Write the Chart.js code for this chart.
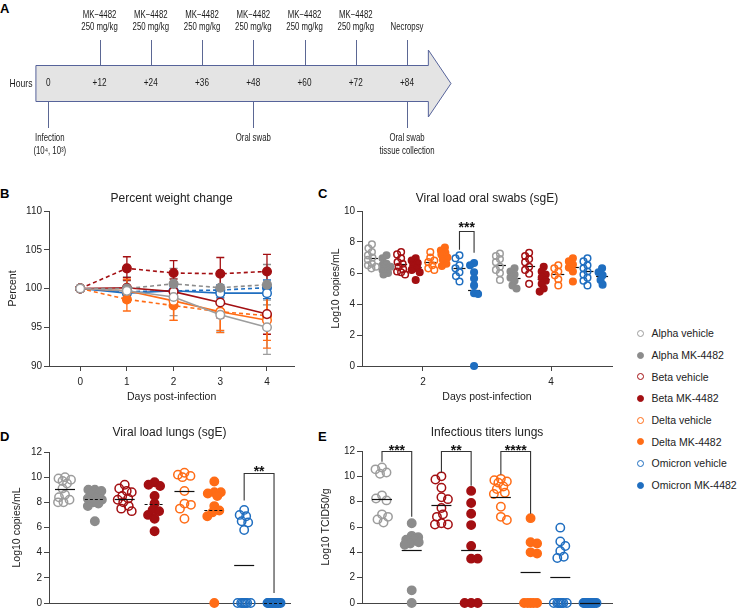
<!DOCTYPE html>
<html>
<head>
<meta charset="utf-8">
<title>MK-4482 in hamsters</title>
<script src="https://cdn.jsdelivr.net/npm/chart.js@4.4.1/dist/chart.umd.min.js"></script>
<style>
  html, body { margin: 0; padding: 0; background: #fff; }
  body { position: relative; width: 737px; height: 611px; overflow: hidden; font-family: "Liberation Sans", Arial, sans-serif; color: #222; }
  canvas { position: absolute; }
  .tag { position: absolute; font: bold 13px/13px "Liberation Sans", Arial, sans-serif; color: #000; }
  #legend { position: absolute; left: 637px; top: 322.5px; font-size: 10.5px; color: #222; }
  #legend div { height: 21.7px; display: flex; align-items: center; white-space: nowrap; }
  #legend .dot { width: 7px; height: 7px; border-radius: 50%; box-sizing: border-box; margin-right: 7.5px; flex: none; }
</style>
</head>
<body>
<div class="tag" style="left:0;top:2px">A</div>
<div class="tag" style="left:0;top:187px">B</div>
<div class="tag" style="left:318px;top:187px">C</div>
<div class="tag" style="left:0;top:430px">D</div>
<div class="tag" style="left:318px;top:430px">E</div>
<canvas id="timeline" width="737" height="165" style="left:0;top:0"></canvas>
<canvas id="weight" width="300" height="230" style="left:0;top:180px"></canvas>
<canvas id="swabs" width="330" height="230" style="left:300px;top:180px"></canvas>
<canvas id="lungs" width="300" height="196" style="left:0;top:415px"></canvas>
<canvas id="titers" width="330" height="196" style="left:300px;top:415px"></canvas>
<div id="legend"></div>
<script>
// groups (legend order)
const groupNames = ['Alpha vehicle', 'Alpha MK-4482', 'Beta vehicle', 'Beta MK-4482', 'Delta vehicle', 'Delta MK-4482', 'Omicron vehicle', 'Omicron MK-4482'];
const groupColors = ['#9d9d9d', '#8c8c8c', '#a30f12', '#a30f12', '#ff6c16', '#ff6c16', '#1f6ec0', '#1f6ec0'];
const groupFilled = [false, true, false, true, false, true, false, true];

// A: study timeline
const hourTicks = [0, 12, 24, 36, 48, 60, 72, 84];
const topEventHours = [12, 24, 36, 48, 60, 72, 84];
const topEventLabels = [
  ['MK−4482', '250 mg/kg'], ['MK−4482', '250 mg/kg'], ['MK−4482', '250 mg/kg'],
  ['MK−4482', '250 mg/kg'], ['MK−4482', '250 mg/kg'], ['MK−4482', '250 mg/kg'],
  ['Necropsy']
];
const bottomEventHours = [0, 48, 84];
const bottomEventLabels = [['Infection', '(10⁴, 10³)'], ['Oral swab'], ['Oral swab', 'tissue collection']];

// B: percent weight change (mean, SD)
const weightDays = [0, 1, 2, 3, 4];
const weightAlphaVeh = [100, 99.7, 98.9, 96.6, 95.0];
const weightAlphaMK = [100, 100.0, 100.6, 100.1, 100.5];
const weightBetaVeh = [100, 100.1, 99.6, 98.2, 96.7];
const weightBetaMK = [100, 102.6, 102.0, 101.9, 102.2];
const weightDeltaVeh = [100, 99.7, 98.4, 97.0, 95.9];
const weightDeltaMK = [100, 98.6, 97.8, 97.0, 96.5];
const weightOmiVeh = [100, 99.4, 99.7, 99.4, 99.4];
const weightOmiMK = [100, 99.6, 99.7, 99.8, 100.1];
const sdAlphaVeh = [0, 1.3, 2.4, 2.2, 3.5];
const sdAlphaMK = [0, 1.5, 2.0, 1.8, 2.6];
const sdBetaVeh = [0, 1.3, 1.6, 2.0, 2.6];
const sdBetaMK = [0, 1.5, 1.6, 2.1, 2.2];
const sdDeltaVeh = [0, 1.5, 2.5, 2.7, 3.6];
const sdDeltaMK = [0, 1.5, 1.9, 2.4, 3.2];
const sdOmiVeh = [0, 0.6, 0.6, 0.6, 0.7];
const sdOmiMK = [0, 0.5, 0.6, 0.7, 1.0];

// C: viral load oral swabs, log10 copies/mL
const swabDays = [2, 4];
const swab2AlphaVeh = [7.85, 7.6, 7.35, 7.15, 7.0, 6.85, 6.6, 6.5, 6.4, 6.3];
const swab2AlphaMK = [7.15, 6.95, 6.6, 6.5, 6.4, 6.3, 6.2, 6.0, 5.9];
const swab2BetaVeh = [7.35, 7.2, 6.95, 6.7, 6.6, 6.4, 6.25, 6.1, 6.05, 5.9];
const swab2BetaMK = [6.95, 6.8, 6.65, 6.5, 6.3, 6.2, 6.05, 5.55];
const swab2DeltaVeh = [7.35, 7.0, 6.8, 6.7, 6.5, 6.3, 6.2];
const swab2DeltaMK = [7.65, 7.45, 7.3, 7.2, 7.0, 6.85, 6.6, 6.45];
const swab2OmiVeh = [7.15, 6.95, 6.5, 6.3, 6.05, 5.8, 5.45];
const swab2OmiMK = [6.65, 6.5, 6.05, 5.65, 5.2, 4.7, 4.65, 0];
const swab4AlphaVeh = [7.25, 7.1, 6.9, 6.7, 6.4, 6.2, 6.0, 5.55];
const swab4AlphaMK = [6.3, 6.1, 5.9, 5.7, 5.5, 5.2, 5.0];
const swab4BetaVeh = [7.3, 7.1, 6.9, 6.7, 6.4, 6.2, 5.95, 5.3];
const swab4BetaMK = [6.4, 6.1, 5.9, 5.7, 5.5, 5.3, 5.0, 4.8];
const swab4DeltaVeh = [6.5, 6.3, 6.1, 5.85, 5.6, 5.2];
const swab4DeltaMK = [6.95, 6.75, 6.55, 6.35, 6.1, 5.45];
const swab4OmiVeh = [6.95, 6.75, 6.5, 6.3, 6.1, 5.9, 5.7, 5.5, 5.2];
const swab4OmiMK = [6.3, 6.05, 5.85, 5.55, 5.25];

// D: viral load lungs, log10 copies/mL
const lungAlphaVeh = [10.0, 9.9, 9.8, 9.7, 9.5, 9.1, 8.6, 8.4, 8.2, 8.0, 8.0];
const lungAlphaMK = [9.0, 9.0, 8.9, 8.7, 8.4, 8.3, 8.2, 8.0, 7.9, 7.7, 6.5];
const lungBetaVeh = [9.4, 9.1, 8.9, 8.8, 8.5, 8.3, 8.2, 8.0, 7.7, 7.5, 7.3];
const lungBetaMK = [9.6, 9.4, 9.3, 8.5, 7.9, 7.4, 7.3, 7.0, 6.7, 5.7];
const lungDeltaVeh = [10.35, 10.2, 10.1, 10.0, 8.9, 7.9, 7.8, 7.5, 6.7];
const lungDeltaMK = [9.65, 8.8, 8.8, 8.7, 8.5, 7.7, 7.35, 7.2, 6.9, 0];
const lungOmiVeh = [7.4, 7.0, 6.9, 6.5, 6.4, 5.8, 0, 0, 0, 0, 0, 0, 0];
const lungOmiMK = [0, 0, 0, 0, 0, 0, 0, 0, 0, 0];
const lungMeans = [9.05, 8.3, 8.3, 7.9, 8.9, 7.4, 3.05, 0];

// E: infectious titers lungs, log10 TCID50/g
const titerAlphaVeh = [10.7, 10.55, 10.3, 10.2, 8.5, 8.25, 8.1, 7.0, 6.8, 6.6, 6.35];
const titerAlphaMK = [6.3, 5.3, 5.2, 5.0, 5.0, 4.8, 4.7, 4.6, 1.0, 0];
const titerBetaVeh = [10.0, 9.75, 9.1, 8.35, 8.2, 7.5, 7.0, 6.8, 6.3, 6.2, 6.2];
const titerBetaMK = [8.85, 7.9, 7.05, 6.15, 4.5, 3.5, 3.5, 0, 0, 0];
const titerDeltaVeh = [9.8, 9.7, 9.6, 9.5, 9.2, 9.0, 8.7, 8.6, 7.6, 6.8, 6.55];
const titerDeltaMK = [6.7, 4.8, 4.7, 4.0, 3.9, 0, 0, 0, 0, 0];
const titerOmiVeh = [5.95, 4.85, 4.5, 4.1, 3.65, 3.55, 0, 0, 0, 0, 0, 0, 0];
const titerOmiMK = [0, 0, 0, 0, 0, 0, 0, 0, 0, 0];
const titerMeans = [8.2, 4.15, 7.7, 4.15, 8.4, 2.45, 2.05, 0];

// significance brackets (group index pairs, y in data units)
const swabSig = [{ day: 2, from: 6, to: 7, y1: 7.5, y2: 7.3, top: 8.7, labelY: 9.15, label: '***' }];
const lungSig = [{ from: 6, to: 7, y1: 8.15, y2: 0.8, top: 10.3, labelY: 10.7, label: '**' }];
const titerSig = [
  { from: 0, to: 1, y1: 11.15, y2: 6.8, top: 12, labelY: 12.3, label: '***' },
  { from: 2, to: 3, y1: 10.3, y2: 9.25, top: 12, labelY: 12.3, label: '**' },
  { from: 4, to: 5, y1: 10.15, y2: 7.05, top: 12, labelY: 12.3, label: '****' }
];

Chart.defaults.font.family = '"Liberation Sans", Arial, sans-serif';
Chart.defaults.font.size = 10;
Chart.defaults.color = '#222';
const AXIS = '#444';
const FONT = '"Liberation Sans", Arial, sans-serif';

// condensed label text for the timeline
function narrow(ctx, text, x, y, size) {
  ctx.save();
  ctx.font = size + 'px ' + FONT;
  ctx.fillStyle = '#1a1a1a';
  ctx.textAlign = 'center';
  ctx.textBaseline = 'middle';
  ctx.translate(x, y);
  ctx.scale(0.78, 1);
  ctx.fillText(text, 0, 0);
  ctx.restore();
}

const timelinePlugin = {
  id: 'timeline',
  afterDraw(chart) {
    const { ctx } = chart;
    const px = h => chart.scales.x.getPixelForValue(h);
    const bodyTop = 65.5, bodyBot = 101.5, headTop = 50, headBot = 117, mid = 83.5;
    ctx.save();
    ctx.beginPath();
    ctx.moveTo(px(-2.9), bodyTop);
    ctx.lineTo(px(89), bodyTop);
    ctx.lineTo(px(89), headTop);
    ctx.lineTo(px(94.3), mid);
    ctx.lineTo(px(89), headBot);
    ctx.lineTo(px(89), bodyBot);
    ctx.lineTo(px(-2.9), bodyBot);
    ctx.closePath();
    ctx.fillStyle = '#e4e4e4';
    ctx.fill();
    ctx.strokeStyle = '#56639a';
    ctx.lineWidth = 1;
    ctx.stroke();

    ctx.strokeStyle = '#5b6794';
    topEventHours.forEach((h, i) => {
      const xx = Math.round(px(h)) + 0.5;
      ctx.beginPath();
      ctx.moveTo(xx, 40);
      ctx.lineTo(xx, bodyTop);
      ctx.stroke();
      const lines = topEventLabels[i];
      lines.forEach((t, j) => narrow(ctx, t, px(h), 27.5 - (lines.length - 1 - j) * 12.5, 10));
    });
    bottomEventHours.forEach((h, i) => {
      const xx = Math.round(px(h)) + 0.5;
      ctx.beginPath();
      ctx.moveTo(xx, bodyBot);
      ctx.lineTo(xx, 128);
      ctx.stroke();
      bottomEventLabels[i].forEach((t, j) => narrow(ctx, t, px(h) + (h === 0 ? 1.5 : 0), 138 + j * 13.5, 10));
    });
    hourTicks.forEach(h => narrow(ctx, (h ? '+' : '') + h, px(h), mid, 10.5));
    narrow(ctx, 'Hours', 21, mid, 11);
    ctx.restore();
  }
};

const errorBars = {
  id: 'errorBars',
  beforeDatasetsDraw(chart) {
    const { ctx } = chart;
    const y = chart.scales.y;
    chart.data.datasets.forEach((ds, di) => {
      if (!ds.errors) return;
      ctx.save();
      ctx.strokeStyle = ds.borderColor;
      ctx.lineWidth = 1.3;
      chart.getDatasetMeta(di).data.forEach((pt, i) => {
        const e = ds.errors[i];
        if (!e) return;
        const v = ds.data[i].y;
        const yt = y.getPixelForValue(v + e), yb = y.getPixelForValue(v - e);
        ctx.beginPath();
        ctx.moveTo(pt.x, yt); ctx.lineTo(pt.x, yb);
        ctx.moveTo(pt.x - 4, yt); ctx.lineTo(pt.x + 4, yt);
        ctx.moveTo(pt.x - 4, yb); ctx.lineTo(pt.x + 4, yb);
        ctx.stroke();
      });
      ctx.restore();
    });
  }
};

// spread points of one column sideways so markers do not sit on top of each other
function spreadColumn(col, gap, half) {
  const placed = [];
  col.slice().sort((a, b) => a.y - b.y).forEach(p => {
    const base = p.x;
    let best = 0, bestD = -1, found = false;
    for (let s = 0; s <= half && !found; s += 0.5) {
      const offs = s === 0 ? [0] : (placed.length % 2 ? [-s, s] : [s, -s]);
      for (const off of offs) {
        let d = Infinity;
        placed.forEach(q => { d = Math.min(d, Math.hypot(base + off - q.x, p.y - q.y)); });
        if (d >= gap) { best = off; found = true; break; }
        if (d > bestD) { bestD = d; best = off; }
      }
    }
    p.x = base + best;
    placed.push(p);
  });
}

const swarm = {
  id: 'swarm',
  afterDatasetsUpdate(chart, args, opts) {
    chart.data.datasets.forEach((ds, i) => {
      const cols = {};
      chart.getDatasetMeta(i).data.forEach(pt => {
        const key = Math.round(pt.x);
        (cols[key] = cols[key] || []).push(pt);
      });
      Object.values(cols).forEach(col => spreadColumn(col, opts.gap, opts.half));
    });
  }
};

function drawMeans(chart, opts) {
  const { ctx, scales: { x, y } } = chart;
  ctx.save();
  ctx.strokeStyle = '#111';
  ctx.lineWidth = opts.width;
  opts.lines.forEach(m => {
    const px = x.getPixelForValue(m.x), py = Math.round(y.getPixelForValue(m.y)) + 0.5;
    ctx.setLineDash(m.dashed ? [3, 2] : []);
    ctx.beginPath();
    ctx.moveTo(px - opts.half, py);
    ctx.lineTo(px + opts.half, py);
    ctx.stroke();
  });
  ctx.restore();
}

const meanLines = {
  id: 'meanLines',
  beforeDatasetsDraw(chart, args, opts) { if (opts.behind) drawMeans(chart, opts); },
  afterDatasetsDraw(chart, args, opts) { if (!opts.behind) drawMeans(chart, opts); }
};

const brackets = {
  id: 'brackets',
  afterDatasetsDraw(chart, args, opts) {
    const { ctx, scales: { x, y } } = chart;
    ctx.save();
    ctx.strokeStyle = '#333';
    ctx.lineWidth = 1.1;
    ctx.fillStyle = '#111';
    ctx.font = 'bold 14px ' + FONT;
    ctx.textAlign = 'center';
    ctx.textBaseline = 'alphabetic';
    opts.items.forEach(b => {
      const x1 = x.getPixelForValue(b.x1), x2 = x.getPixelForValue(b.x2);
      const yt = Math.round(y.getPixelForValue(b.top)) + 0.5;
      ctx.beginPath();
      ctx.moveTo(x1, y.getPixelForValue(b.y1));
      ctx.lineTo(x1, yt);
      ctx.lineTo(x2, yt);
      ctx.lineTo(x2, y.getPixelForValue(b.y2));
      ctx.stroke();
      ctx.fillText(b.label, (x1 + x2) / 2, y.getPixelForValue(b.labelY) + 8);
    });
    ctx.restore();
  }
};

function valueAxis(min, max, step, title, width, titleGap) {
  return {
    type: 'linear', min, max,
    ticks: { stepSize: step, padding: 2 },
    grid: { drawOnChartArea: false, tickLength: 5, color: AXIS },
    border: { color: AXIS, width: 1 },
    title: { display: true, text: title, font: { size: 10.5 }, padding: { top: titleGap, bottom: 0 } },
    afterFit(s) { s.width = width; }
  };
}

function dayAxis(min, max, tickValues, height) {
  return {
    type: 'linear', min, max,
    afterBuildTicks(s) { s.ticks = tickValues.map(v => ({ value: v })); },
    ticks: { padding: 5 },
    grid: { drawOnChartArea: false, tickLength: 5, color: AXIS },
    border: { color: AXIS, width: 1 },
    title: { display: true, text: 'Days post-infection', font: { size: 10.5 }, padding: { top: 0, bottom: 6.2 } },
    afterFit(s) { s.height = height; }
  };
}

function groupAxis(min, max) {
  return {
    type: 'linear', min, max,
    ticks: { display: false },
    grid: { display: false },
    border: { color: AXIS, width: 1 },
    afterFit(s) { s.height = 4; }
  };
}

function titleOpts(text, top, bottom) {
  return { display: true, text, fullSize: false, color: '#222', font: { size: 12, weight: 'normal' }, padding: { top, bottom } };
}

function dotDataset(k, points, r) {
  return {
    label: groupNames[k],
    data: points,
    pointBorderColor: groupColors[k],
    pointBackgroundColor: groupFilled[k] ? groupColors[k] : 'rgba(0,0,0,0)',
    borderColor: groupColors[k],
    pointRadius: r,
    pointHoverRadius: r,
    pointBorderWidth: 1.5,
    showLine: false,
    clip: false
  };
}

const baseOptions = {
  responsive: false,
  animation: false,
  events: []
};

// A
new Chart(document.getElementById('timeline'), {
  type: 'scatter',
  data: { datasets: [{ data: hourTicks.map(h => ({ x: h, y: 0.5 })), pointRadius: 0 }] },
  options: {
    ...baseOptions,
    layout: { padding: { left: 48.3, right: 330, top: 0, bottom: 0 } },
    scales: { x: { type: 'linear', min: 0, max: 84, display: false }, y: { min: 0, max: 1, display: false } },
    plugins: { legend: { display: false }, tooltip: { enabled: false } }
  },
  plugins: [timelinePlugin]
});

// B
const weightSeries = [weightAlphaVeh, weightAlphaMK, weightBetaVeh, weightBetaMK, weightDeltaVeh, weightDeltaMK, weightOmiVeh, weightOmiMK];
const weightSD = [sdAlphaVeh, sdAlphaMK, sdBetaVeh, sdBetaMK, sdDeltaVeh, sdDeltaMK, sdOmiVeh, sdOmiMK];
new Chart(document.getElementById('weight'), {
  type: 'scatter',
  data: {
    datasets: weightSeries.map((vals, k) => ({
      label: groupNames[k],
      data: weightDays.map((d, i) => ({ x: d, y: vals[i] })),
      errors: weightSD[k],
      showLine: true,
      borderColor: groupColors[k],
      borderWidth: 1.6,
      borderDash: groupFilled[k] ? [4, 3] : [],
      pointBorderColor: groupColors[k],
      pointBackgroundColor: groupFilled[k] ? groupColors[k] : '#fff',
      pointRadius: 4.3,
      pointHoverRadius: 4.3,
      pointBorderWidth: 1.5,
      clip: false
    }))
  },
  options: {
    ...baseOptions,
    layout: { padding: { left: 0, right: 5, top: 0, bottom: 0 } },
    scales: {
      x: dayAxis(-0.668, 4.583, weightDays, 44),
      y: valueAxis(90, 110, 5, 'Percent', 49, 6.7)
    },
    plugins: {
      legend: { display: false }, tooltip: { enabled: false },
      title: titleOpts('Percent weight change', 11.8, 4.8)
    }
  },
  plugins: [errorBars]
});

// C
const swabStep = 0.228;
const swabDay2 = [swab2AlphaVeh, swab2AlphaMK, swab2BetaVeh, swab2BetaMK, swab2DeltaVeh, swab2DeltaMK, swab2OmiVeh, swab2OmiMK];
const swabDay4 = [swab4AlphaVeh, swab4AlphaMK, swab4BetaVeh, swab4BetaMK, swab4DeltaVeh, swab4DeltaMK, swab4OmiVeh, swab4OmiMK];
const swabX = (day, k) => day + (k - 3.5) * swabStep;
const avg = a => a.reduce((s, v) => s + v, 0) / a.length;
const swabMeanLines = [];
swabDays.forEach((day, d) => {
  [swabDay2, swabDay4][d].forEach((vals, k) => swabMeanLines.push({ x: swabX(day, k), y: avg(vals), dashed: false }));
});
new Chart(document.getElementById('swabs'), {
  type: 'scatter',
  data: {
    datasets: groupNames.map((n, k) => {
      const pts = [];
      swabDays.forEach((day, d) => [swabDay2, swabDay4][d][k].forEach(v => pts.push({ x: swabX(day, k), y: v })));
      return dotDataset(k, pts, 3.3);
    })
  },
  options: {
    ...baseOptions,
    layout: { padding: { left: 0, right: 18, top: 0, bottom: 0 } },
    scales: {
      x: dayAxis(1.047, 4.953, swabDays, 44),
      y: valueAxis(0, 10, 2, 'Log10 copies/mL', 62, 30.2)
    },
    plugins: {
      legend: { display: false }, tooltip: { enabled: false },
      title: titleOpts('Viral load oral swabs (sgE)', 11.8, 4.8),
      swarm: { gap: 5, half: 4 },
      meanLines: { lines: swabMeanLines, half: 6, width: 1.2, behind: true },
      brackets: { items: swabSig.map(b => ({ x1: swabX(b.day, b.from), x2: swabX(b.day, b.to), y1: b.y1, y2: b.y2, top: b.top, labelY: b.labelY, label: b.label })) }
    }
  },
  plugins: [swarm, meanLines, brackets]
});

// D
const lungSets = [lungAlphaVeh, lungAlphaMK, lungBetaVeh, lungBetaMK, lungDeltaVeh, lungDeltaMK, lungOmiVeh, lungOmiMK];
new Chart(document.getElementById('lungs'), {
  type: 'scatter',
  data: { datasets: lungSets.map((vals, k) => dotDataset(k, vals.map(v => ({ x: k, y: v })), 4.2)) },
  options: {
    ...baseOptions,
    layout: { padding: { left: 0, right: 10, top: 0, bottom: 0 } },
    scales: {
      x: groupAxis(-0.536, 7.535),
      y: valueAxis(0, 12, 2, 'Log10 copies/mL', 49, 10.4)
    },
    plugins: {
      legend: { display: false }, tooltip: { enabled: false },
      title: titleOpts('Viral load lungs (sgE)', 10.8, 11.8),
      swarm: { gap: 6.5, half: 7 },
      meanLines: { lines: lungMeans.map((m, k) => ({ x: k, y: m, dashed: groupFilled[k] })), half: 10, width: 1.2, behind: false },
      brackets: { items: lungSig.map(b => ({ x1: b.from, x2: b.to, y1: b.y1, y2: b.y2, top: b.top, labelY: b.labelY, label: b.label })) }
    }
  },
  plugins: [swarm, meanLines, brackets]
});

// E
const titerSets = [titerAlphaVeh, titerAlphaMK, titerBetaVeh, titerBetaMK, titerDeltaVeh, titerDeltaMK, titerOmiVeh, titerOmiMK];
new Chart(document.getElementById('titers'), {
  type: 'scatter',
  data: { datasets: titerSets.map((vals, k) => dotDataset(k, vals.map(v => ({ x: k, y: v })), 4.2)) },
  options: {
    ...baseOptions,
    layout: { padding: { left: 0, right: 18, top: 0, bottom: 0 } },
    scales: {
      x: groupAxis(-0.673, 7.74),
      y: valueAxis(0, 12, 2, 'Log10 TCID50/g', 62, 19.7)
    },
    plugins: {
      legend: { display: false }, tooltip: { enabled: false },
      title: titleOpts('Infectious titers lungs', 10.8, 10.8),
      swarm: { gap: 6.5, half: 7 },
      meanLines: { lines: titerMeans.map((m, k) => ({ x: k, y: m, dashed: false })), half: 10, width: 1.2, behind: false },
      brackets: { items: titerSig.map(b => ({ x1: b.from, x2: b.to, y1: b.y1, y2: b.y2, top: b.top, labelY: b.labelY, label: b.label })) }
    }
  },
  plugins: [swarm, meanLines, brackets]
});

// legend
const legendEl = document.getElementById('legend');
groupNames.forEach((name, k) => {
  const row = document.createElement('div');
  const dot = document.createElement('span');
  dot.className = 'dot';
  dot.style.border = '1.5px solid ' + groupColors[k];
  if (groupFilled[k]) dot.style.background = groupColors[k];
  row.appendChild(dot);
  row.appendChild(document.createTextNode(name));
  legendEl.appendChild(row);
});
</script>
</body>
</html>
